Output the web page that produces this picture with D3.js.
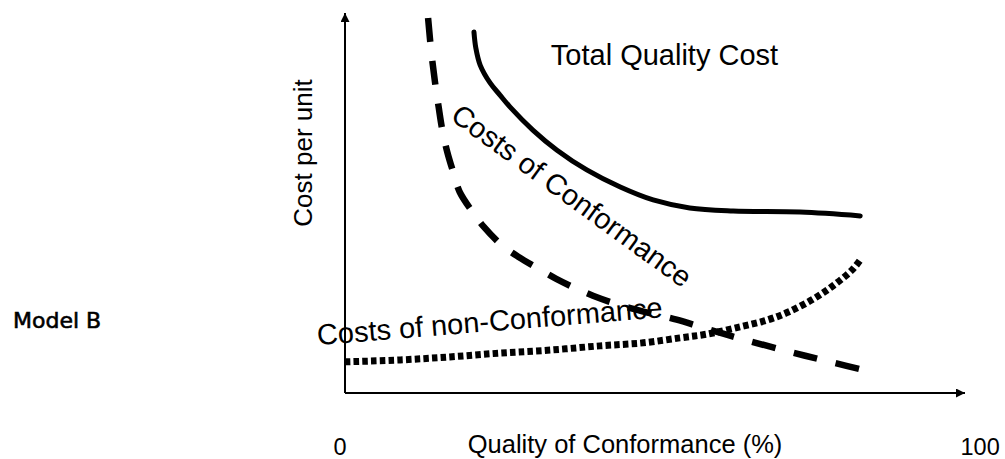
<!DOCTYPE html>
<html>
<head>
<meta charset="utf-8">
<script src="https://cdn.jsdelivr.net/npm/d3@7"></script>
<style>
  body { margin: 0; background: #fff; }
  svg { display: block; }
  text { font-family: "Liberation Sans", Arial, sans-serif; fill: #000; }
</style>
</head>
<body>
<svg id="chart" width="1005" height="459"></svg>
<script>
// quality level (%) and cost per unit
var totalCostX = [20.8, 21.1, 21.8, 23.4, 25.0, 26.6, 30.3, 34.2, 39.0, 44.4, 49.7, 55.6, 62.6, 73.4, 83.1];
var totalCostY = [95.0, 90.8, 86.3, 81.6, 78.4, 75.3, 69.2, 63.9, 58.7, 54.2, 50.8, 48.7, 47.9, 47.6, 46.6];

var conformX = [13.4, 13.9, 14.5, 15.1, 15.7, 16.5, 17.5, 18.5, 20.6, 22.4, 25.3, 28.0, 31.0, 34.0, 37.0, 40.0, 44.0, 49.2, 53.5, 57.3, 61.0, 64.5, 71.3, 78.0, 85.0];
var conformY = [98.7, 90.0, 82.0, 75.3, 69.2, 63.4, 57.9, 52.9, 47.6, 43.7, 38.9, 35.8, 32.9, 30.1, 27.7, 25.6, 23.3, 21.0, 19.3, 17.4, 15.6, 14.0, 11.0, 8.3, 5.5];

var nonConformX = [0, 8.9, 16.9, 25.0, 33.1, 41.1, 48.1, 54.0, 58.4, 63.7, 68.1, 71.5, 75.5, 78.7, 81.8, 83.1];
var nonConformY = [8.2, 8.7, 9.5, 10.5, 11.3, 12.4, 13.2, 14.5, 15.5, 17.4, 19.2, 21.3, 24.7, 28.2, 32.4, 35.0];

var xTicks = [0, 100];
var xTitle = "Quality of Conformance (%)";
var yTitle = "Cost per unit";
var modelName = "Model B";

var svg = d3.select("#chart");

var xScale = d3.scaleLinear().domain([0, 100]).range([345, 965]);
var yScale = d3.scaleLinear().domain([0, 100]).range([393, 13]);

function zip(xs, ys) {
    return xs.map(function(x, i) { return [x, ys[i]]; });
}

var line = d3.line()
    .x(function(d) { return xScale(d[0]); })
    .y(function(d) { return yScale(d[1]); })
    .curve(d3.curveCatmullRom.alpha(0.5));

// arrow heads
var defs = svg.append("defs");
defs.append("marker")
    .attr("id", "arrow")
    .attr("viewBox", "0 0 10 10")
    .attr("refX", 10).attr("refY", 5)
    .attr("markerUnits", "userSpaceOnUse")
    .attr("markerWidth", 10).attr("markerHeight", 9)
    .attr("orient", "auto")
  .append("path")
    .attr("d", "M0,0L10,5L0,10Z")
    .attr("fill", "#000");

// axes
svg.append("line")
    .attr("x1", xScale(0)).attr("y1", yScale(0))
    .attr("x2", xScale(0)).attr("y2", yScale(100))
    .attr("stroke", "#000").attr("stroke-width", 2)
    .attr("marker-end", "url(#arrow)");

svg.append("line")
    .attr("x1", xScale(0)).attr("y1", yScale(0))
    .attr("x2", xScale(100)).attr("y2", yScale(0))
    .attr("stroke", "#000").attr("stroke-width", 2)
    .attr("marker-end", "url(#arrow)");

var xAxis = d3.axisBottom(xScale)
    .tickValues(xTicks)
    .tickSize(0)
    .tickPadding(45);

var gx = svg.append("g")
    .attr("transform", "translate(0," + yScale(0) + ")")
    .call(xAxis);
gx.select(".domain").remove();
gx.selectAll("text")
    .style("font-family", "'Liberation Sans', Arial, sans-serif")
    .style("font-size", "23.5px")
    .attr("text-anchor", function(d) { return d === 0 ? "end" : "start"; })
    .attr("dx", function(d) { return d === 0 ? "1" : "-5"; });

// axis titles
svg.append("text")
    .attr("x", 625)
    .attr("y", 453)
    .attr("text-anchor", "middle")
    .style("font-size", "25.5px")
    .text(xTitle);

svg.append("text")
    .attr("transform", "translate(312,153) rotate(-90)")
    .attr("text-anchor", "middle")
    .style("font-size", "26px")
    .text(yTitle);

svg.append("text")
    .attr("x", 13)
    .attr("y", 328)
    .style("font-family", "'DejaVu Sans', sans-serif")
    .style("font-size", "22px")
    .attr("stroke", "#000")
    .attr("stroke-width", 0.6)
    .text(modelName);

// curves
svg.append("path")
    .datum(zip(nonConformX, nonConformY))
    .attr("d", line)
    .attr("fill", "none")
    .attr("stroke", "#000")
    .attr("stroke-width", 7)
    .attr("stroke-dasharray", "5.5,3.2");

svg.append("path")
    .datum(zip(conformX, conformY))
    .attr("d", line)
    .attr("fill", "none")
    .attr("stroke", "#000")
    .attr("stroke-width", 6.5)
    .attr("stroke-dasharray", "24,19");

svg.append("path")
    .datum(zip(totalCostX, totalCostY))
    .attr("d", line)
    .attr("fill", "none")
    .attr("stroke", "#000")
    .attr("stroke-width", 5)
    .attr("stroke-linecap", "round");

// curve labels
var labels = [
    {text: "Total Quality Cost", x: 33.2, y: 86.3, angle: 0},
    {text: "Costs of Conformance", x: 16.8, y: 72.1, angle: 36},
    {text: "Costs of non-Conformance", x: -4.4, y: 12.6, angle: -4.6}
];

svg.selectAll(".curve-label")
    .data(labels)
  .enter().append("text")
    .attr("class", "curve-label")
    .attr("transform", function(d) {
        return "translate(" + xScale(d.x) + "," + yScale(d.y) + ") rotate(" + d.angle + ")";
    })
    .style("font-size", "29px")
    .text(function(d) { return d.text; });
</script>
</body>
</html>
